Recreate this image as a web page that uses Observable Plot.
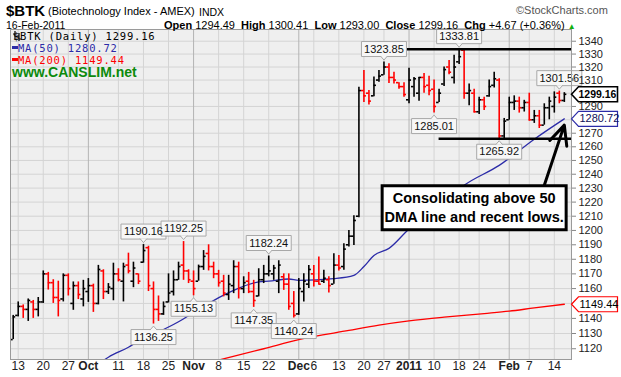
<!DOCTYPE html>
<html><head><meta charset="utf-8">
<script src="https://cdn.jsdelivr.net/npm/d3@7"></script>
<script src="https://cdn.jsdelivr.net/npm/@observablehq/plot@0.6"></script>
<style>
body{margin:0;background:#fff;font-family:"Liberation Sans",Arial,sans-serif}
#wrap{position:relative;width:621px;height:377px;overflow:hidden;background:#fff}
#wrap svg{position:absolute;left:0;top:0}
.t{position:absolute;white-space:nowrap;line-height:1;color:#000}
</style></head>
<body><div id="wrap"></div>
<script>
// ---------- DATA ----------
const dates = [
"2010-09-10",
"2010-09-13","2010-09-14","2010-09-15","2010-09-16","2010-09-17",
"2010-09-20","2010-09-21","2010-09-22","2010-09-23","2010-09-24",
"2010-09-27","2010-09-28","2010-09-29","2010-09-30","2010-10-01",
"2010-10-04","2010-10-05","2010-10-06","2010-10-07","2010-10-08",
"2010-10-11","2010-10-12","2010-10-13","2010-10-14","2010-10-15",
"2010-10-18","2010-10-19","2010-10-20","2010-10-21","2010-10-22",
"2010-10-25","2010-10-26","2010-10-27","2010-10-28","2010-10-29",
"2010-11-01","2010-11-02","2010-11-03","2010-11-04","2010-11-05",
"2010-11-08","2010-11-09","2010-11-10","2010-11-11","2010-11-12",
"2010-11-15","2010-11-16","2010-11-17","2010-11-18","2010-11-19",
"2010-11-22","2010-11-23","2010-11-24","2010-11-26",
"2010-11-29","2010-11-30","2010-12-01","2010-12-02","2010-12-03",
"2010-12-06","2010-12-07","2010-12-08","2010-12-09","2010-12-10",
"2010-12-13","2010-12-14","2010-12-15","2010-12-16","2010-12-17",
"2010-12-20","2010-12-21","2010-12-22","2010-12-23",
"2010-12-27","2010-12-28","2010-12-29","2010-12-30","2010-12-31",
"2011-01-03","2011-01-04","2011-01-05","2011-01-06","2011-01-07",
"2011-01-10","2011-01-11","2011-01-12","2011-01-13","2011-01-14",
"2011-01-18","2011-01-19","2011-01-20","2011-01-21",
"2011-01-24","2011-01-25","2011-01-26","2011-01-27","2011-01-28",
"2011-01-31","2011-02-01","2011-02-02","2011-02-03","2011-02-04",
"2011-02-07","2011-02-08","2011-02-09","2011-02-10","2011-02-11",
"2011-02-14","2011-02-15","2011-02-16"];

const open = [
1126,1142,1148,1146,1151,1146,1151,1170,1164,1154,
1153,1169,1150,1162,1153,1158,1162,1150,1172,1158,
1160,1170,1165,1176,1165,1170,1178,1188,1160,1146,
1143,1151,1158,1166,1176,1172,1165,1165,1175,1184,
1175,1170,1165,1156,1162,1175,1160,1165,1158,1155,
1166,1170,1170,1165,1168,1163,1150,1143,1158,1163,
1170,1165,1165,1166,1163,1176,1175,1190,1196,1210,
1302,1300,1298,1310,1314,1320,1312,1308,1305,1295,
1305,1300,1312,1306,1303,1293,1307,1320,1312,1324,
1333,1300,1300,1286,1295,1298,1306,1310,1268,1280,
1293,1294,1289,1293,1280,1283,1276,1289,1290,1300,
1294.49];
const high = [
1142,1151,1149,1153,1152,1154,1172,1171,1166,1165,
1170,1170,1164.5,1164.5,1165.6,1166.8,1163,1175.8,1172.8,1163.4,
1177.3,1173.5,1177.3,1184.2,1178,1170,1190.16,1189,1164.5,1155,
1151,1170,1172,1178,1192.25,1172.8,1172,1176,1186,1190,
1178,1172.4,1169,1169,1179,1178,1168,1171,1165.6,1173.5,
1175.8,1182.24,1175.8,1179,1170,1170,1158,1166.8,1170,1175.8,
1175.8,1181.5,1172.4,1168,1183.8,1182.6,1190.7,1200,1210.3,1304.5,
1317.4,1302,1312.4,1317.4,1323.85,1322.5,1316,1308,1308,1319,
1312,1312,1315,1313,1310,1303,1320,1325,1329,1333.81,
1333,1307,1303,1297,1297,1310,1316,1311,1281,1297,
1298,1297,1294.6,1300,1287,1287,1292,1297,1301,1301.56,
1300.41];
const low = [
1126,1141,1140,1138,1140,1141,1150,1159,1150,1141,
1151,1155,1145.4,1152.6,1147.7,1150.7,1144,1149,1152.6,1156,
1151.8,1164.5,1151,1170,1160.6,1162.7,1177.3,1158,1136.25,1138,
1142,1150.3,1155,1165.6,1165.6,1163.4,1155.13,1165,1172.4,1172,
1166.7,1161,1154.4,1152,1156.6,1153,1156.6,1156.6,1147.35,1154.4,
1163.4,1168,1165.6,1156.6,1158.8,1145.4,1140.24,1142,1151,1160,
1161,1162.6,1163.4,1157,1163,1172,1172.4,1188.4,1189.5,1209,
1292.9,1291,1297.3,1308.4,1313.6,1307.3,1307,1303,1297,1292,
1297,1294,1300,1298,1285.01,1293,1305,1314,1307,1322,
1295.4,1290.6,1285,1284,1287,1297,1304,1265.92,1266,1279.7,
1287,1285,1285.8,1279,1277.3,1273.5,1276,1280,1285,1292,
1293];
const close = [
1141,1148,1146,1152,1146,1151,1170,1164,1154,1152,
1169,1160,1162,1156,1160,1162,1150,1173,1158,1161,
1170,1166,1175,1172,1174,1165,1186,1162,1146,1143,
1148,1157,1166,1175,1172,1166,1160,1175,1182,1175,
1170,1164,1157,1163,1175,1160,1164,1158,1152,1166,
1170,1172,1174,1176,1163,1148,1142,1160,1165,1173,
1165,1163,1167,1162,1176,1174,1187,1196,1207,1302,
1298,1294,1306,1313,1320,1312,1310,1305,1299,1310,
1311,1312,1305,1302,1290,1300,1318,1316,1320,1328,
1300,1302,1286,1295,1290,1305,1311,1268,1279,1293,
1294,1289,1293,1280,1283,1276,1289,1294,1297,1294.49,
1299.16];

// moving averages at sample dates
const ma50Dates = ["2010-10-05","2010-10-07","2010-10-13","2010-10-15","2010-10-20","2010-10-27","2010-11-02","2010-11-09","2010-11-11","2010-11-18","2010-11-22","2010-11-29","2010-12-01","2010-12-10","2010-12-16","2010-12-20","2010-12-22","2010-12-28","2011-01-03","2011-01-11","2011-01-19","2011-01-28","2011-02-08","2011-02-16"];
const ma50 = [1110,1114.5,1121,1125,1129.5,1137.8,1146,1155.6,1158.8,1164.5,1165,1166.5,1165.6,1166.8,1169,1175,1182.6,1187.5,1201,1217,1232,1246.4,1265.6,1280.72];
const ma200Dates = ["2010-11-04","2010-11-19","2010-12-01","2010-12-15","2010-12-23","2011-01-03","2011-01-12","2011-01-25","2011-02-01","2011-02-08","2011-02-16"];
const ma200 = [1111,1120,1126,1132,1135.5,1138.3,1140.8,1143.2,1144.8,1147,1149.44];

// x-axis tick labels
const tickDates = ["2010-09-13","2010-09-20","2010-09-27","2010-10-01","2010-10-11","2010-10-18","2010-10-25","2010-11-01","2010-11-08","2010-11-15","2010-11-22","2010-12-01","2010-12-06","2010-12-13","2010-12-20","2010-12-27","2011-01-03","2011-01-10","2011-01-18","2011-01-24","2011-02-01","2011-02-07","2011-02-14"];
const tickLabels = ["13","20","27","Oct","11","18","25","Nov","8","15","22","Dec","6","13","20","27","2011","10","18","24","Feb","7","14"];
const monthLabels = ["Oct","Nov","Dec","2011","Feb"];
const yTicks = [1120,1130,1140,1150,1160,1170,1180,1190,1200,1210,1220,1230,1240,1250,1260,1270,1280,1290,1300,1310,1320,1330,1340];

// price annotations
const noteDates = ["2010-10-18","2010-10-20","2010-10-28","2010-11-01","2010-11-17","2010-11-22","2010-11-30","2010-12-27","2011-01-10","2011-01-18","2011-01-28","2011-02-15"];
const noteValues = [1190.16,1136.25,1192.25,1155.13,1147.35,1182.24,1140.24,1323.85,1285.01,1333.81,1265.92,1301.56];
const noteSides = ["high","low","high","low","low","high","low","high","low","high","low","high"];

// horizontal lines
const levelStarts = ["2010-12-27","2011-01-11"];
const levelValues = [1333.81,1265.92];

// comment box + arrow
const commentText = ["Consolidating above 50","DMA line and recent lows."];
const commentAnchor = {date: "2011-01-21", value: 1216};
const arrowFrom = {date: "2011-02-10", value: 1232};
const arrowTo = {date: "2011-02-16", value: 1276};

// ---------- BUILD ----------
const idx = new Map(dates.map((d, i) => [d, i]));
const X0 = -0.54, X1 = 111.43;
const bars = dates.map((d, i) => ({
  i, o: open[i], h: high[i], l: low[i], c: close[i],
  col: i > 0 && close[i] < close[i - 1] ? "#ff0000" : "#000000"
}));
const ma50Pts = ma50Dates.map((d, k) => ({i: idx.get(d), v: ma50[k]}));
const ma200Pts = ma200Dates.map((d, k) => ({i: idx.get(d), v: ma200[k]}));
const tickIdx = tickDates.map(d => idx.get(d));
const labelOf = new Map(tickIdx.map((i, k) => [i, tickLabels[k]]));
const boldIdx = tickIdx.filter(i => monthLabels.includes(labelOf.get(i)));
const plainIdx = tickIdx.filter(i => !monthLabels.includes(labelOf.get(i)));
const notes = noteDates.map((d, k) => ({i: idx.get(d), v: noteValues[k], side: noteSides[k]}));
const levels = levelStarts.map((d, k) => ({i: idx.get(d), v: levelValues[k]}));
const last = close.length - 1;
const rightBoxes = [
  {v: close[last], stroke: "#000000", sw: 1.6, color: "#000"},
  {v: ma50[ma50.length - 1], stroke: "#2b2ba8", sw: 1.2, color: "#10105a"},
  {v: ma200[ma200.length - 1], stroke: "#ff0000", sw: 1.2, color: "#000"}
];
const hiddenTick = t => rightBoxes.some(b => Math.abs(b.v - t) < 6);

const rectSym = (w, h) => ({draw(ctx) { ctx.rect(-w / 2, -h / 2, w, h); }});
const tagSym = {draw(ctx) { ctx.moveTo(0, 0); ctx.lineTo(7, -7.5); ctx.lineTo(46, -7.5); ctx.lineTo(46, 7.5); ctx.lineTo(7, 7.5); ctx.closePath(); }};
const downTri = {draw(ctx) { ctx.moveTo(-3.5, -0.5); ctx.lineTo(0, 3.5); ctx.lineTo(3.5, -0.5); }};
const upTri = {draw(ctx) { ctx.moveTo(-3.5, 0.5); ctx.lineTo(0, -3.5); ctx.lineTo(3.5, 0.5); }};

const highs = notes.filter(d => d.side === "high");
const lows = notes.filter(d => d.side === "low");
const fmt = v => v.toFixed(2);

const chart = Plot.plot({
  width: 621, height: 377,
  marginTop: 29, marginBottom: 18, marginLeft: 10, marginRight: 50,
  style: {fontFamily: "'Liberation Sans', Arial, sans-serif", fontSize: "11px", background: "transparent", overflow: "visible"},
  x: {type: "linear", domain: [X0, X1], label: null},
  y: {type: "log", domain: [1113, 1349.2], label: null},
  marks: [
    Plot.frame({fill: "#efefef", stroke: null}),
    Plot.ruleY(yTicks, {stroke: "#d4d4d4", strokeWidth: 1}),
    Plot.ruleX(plainIdx, {stroke: "#d4d4d4", strokeWidth: 1}),
    Plot.ruleX(boldIdx, {stroke: "#b4b4b4", strokeWidth: 1}),
    Plot.line(ma200Pts, {x: "i", y: "v", stroke: "#ff0000", strokeWidth: 1.3, curve: "monotone-x", clip: true}),
    Plot.line(ma50Pts, {x: "i", y: "v", stroke: "#2b2ba8", strokeWidth: 1.3, curve: "monotone-x", clip: true}),
    Plot.ruleX(bars, {x: "i", y1: "l", y2: "h", stroke: "col", strokeWidth: 1.6}),
    Plot.ruleY(bars, {y: "o", x1: d => d.i - 0.5, x2: "i", stroke: "col", strokeWidth: 1.6}),
    Plot.ruleY(bars, {y: "c", x1: "i", x2: d => d.i + 0.5, stroke: "col", strokeWidth: 1.6}),
    Plot.ruleY(levels, {y: "v", x1: "i", x2: () => X1, stroke: "#000", strokeWidth: 2.5}),
    // price tags
    Plot.dot(highs, {x: "i", y: "v", dy: -13, symbol: rectSym(45, 15), r: 5, fill: "#f7f7f7", stroke: "#a8a8a8", strokeWidth: 1}),
    Plot.dot(highs, {x: "i", y: "v", dy: -5.5, symbol: downTri, r: 5, fill: "#f7f7f7", stroke: "#a8a8a8", strokeWidth: 1}),
    Plot.text(highs, {x: "i", y: "v", dy: -13, text: d => fmt(d.v), fontSize: 11, fill: "#111"}),
    Plot.dot(lows, {x: "i", y: "v", dy: 13, symbol: rectSym(45, 15), r: 5, fill: "#f7f7f7", stroke: "#a8a8a8", strokeWidth: 1}),
    Plot.dot(lows, {x: "i", y: "v", dy: 5.5, symbol: upTri, r: 5, fill: "#f7f7f7", stroke: "#a8a8a8", strokeWidth: 1}),
    Plot.text(lows, {x: "i", y: "v", dy: 13, text: d => fmt(d.v), fontSize: 11, fill: "#111"}),
    // comment
    Plot.arrow([0], {x1: () => idx.get(arrowFrom.date), y1: () => arrowFrom.value, x2: () => idx.get(arrowTo.date), y2: () => arrowTo.value, stroke: "#000", strokeWidth: 3, headLength: 11, headAngle: 50}),
    Plot.dot([commentAnchor], {x: d => idx.get(d.date), y: "value", symbol: rectSym(184, 44), r: 5, fill: "#fff", stroke: "#000", strokeWidth: 3}),
    Plot.text([commentAnchor], {x: d => idx.get(d.date), y: "value", dy: -9, text: () => commentText[0], fontSize: 14.5, fontWeight: "bold", fill: "#000"}),
    Plot.text([commentAnchor], {x: d => idx.get(d.date), y: "value", dy: 10, text: () => commentText[1], fontSize: 14.5, fontWeight: "bold", fill: "#000"}),
    // axes
    Plot.axisY({ticks: yTicks, anchor: "right", label: null, tickSize: 4, tickPadding: 3, fontSize: 11, tickFormat: d => hiddenTick(d) ? "" : String(d), stroke: "#888", fill: "#222"}),
    Plot.axisX({ticks: plainIdx, label: null, tickFormat: i => labelOf.get(i), tickSize: 0, tickPadding: 2, fontSize: 12, fill: "#222"}),
    Plot.axisX({ticks: boldIdx, label: null, tickFormat: i => labelOf.get(i), tickSize: 0, tickPadding: 2, fontSize: 12, fontWeight: "bold", fill: "#222"}),
    Plot.frame({stroke: "#9a9a9a", strokeWidth: 1}),
    // right value tags
    Plot.dot(rightBoxes, {y: "v", frameAnchor: "right", symbol: tagSym, r: 5, fill: "#fff", stroke: "stroke", strokeWidth: "sw"}),
    Plot.text(rightBoxes.slice(0, 1), {y: "v", frameAnchor: "right", dx: 7, textAnchor: "start", text: d => fmt(d.v), fontSize: 10.5, fontWeight: "bold", fill: "#000"}),
    Plot.text(rightBoxes.slice(1), {y: "v", frameAnchor: "right", dx: 8, textAnchor: "start", text: d => fmt(d.v), fontSize: 11, fill: "color"})
  ]
});

const wrap = document.getElementById("wrap");
wrap.appendChild(chart);

// header + legend (HTML overlay)
const chg = close[last] - close[last - 1];
const pct = chg / close[last - 1] * 100;
const lastDate = new Date(dates[last] + "T00:00:00");
const mon = ["Jan","Feb","Mar","Apr","May","Jun","Jul","Aug","Sep","Oct","Nov","Dec"][lastDate.getMonth()];
const dateStr = `${lastDate.getDate()}-${mon}-${lastDate.getFullYear()}`;
const add = (html, css) => { const s = document.createElement("div"); s.className = "t"; s.style.cssText = css; s.innerHTML = html; wrap.appendChild(s); };
add("$BTK", "left:6px;top:3px;font-size:15px;font-weight:bold;");
add("(Biotechnology Index - AMEX)", "left:48px;top:6px;font-size:11px;");
add("INDX", "left:199px;top:7px;font-size:10.5px;");
add("&copy;StockCharts.com", "left:516px;top:5px;font-size:11px;color:#555;");
add(dateStr, "left:6px;top:19.5px;font-size:10.5px;");
add(`<b>Open</b> ${open[last].toFixed(2)} &nbsp;<b>High</b> ${high[last].toFixed(2)} &nbsp;<b>Low</b> ${low[last].toFixed(2)} &nbsp;<b>Close</b> ${close[last].toFixed(2)} &nbsp;<b>Chg</b> ${chg >= 0 ? "+" : ""}${chg.toFixed(2)} (${pct >= 0 ? "+" : ""}${pct.toFixed(2)}%) <span style="color:#10b010;font-size:8px">&#9650;</span>`, "left:164px;top:19.5px;font-size:11px;");
const legCss = "font-size:10.5px;letter-spacing:0.8px;font-family:'DejaVu Sans Mono',monospace;";
add(`<svg width="8" height="10" style="vertical-align:-1px"><path d="M2 0V8M0 3H2M6 2V10M4 5H6M6 8H8" stroke="#000" stroke-width="1.2" fill="none"/></svg> $BTK (Daily) ${close[last].toFixed(2)}`, "left:13px;top:31px;" + legCss);
add(`<span style="display:inline-block;width:6px;height:3px;background:#2b2ba8;vertical-align:3px"></span><span style="color:#2b2ba8">MA(50) ${ma50[ma50.length-1].toFixed(2)}</span>`, "left:12px;top:43px;" + legCss);
add(`<span style="display:inline-block;width:6px;height:3px;background:#ff0000;vertical-align:3px"></span><span style="color:#ff0000">MA(200) ${ma200[ma200.length-1].toFixed(2)}</span>`, "left:12px;top:54.5px;" + legCss);
add("www.CANSLIM.net", "left:12px;top:67px;font-size:14px;line-height:0.78;font-weight:bold;color:#0c8a0c;");
</script></body></html>
